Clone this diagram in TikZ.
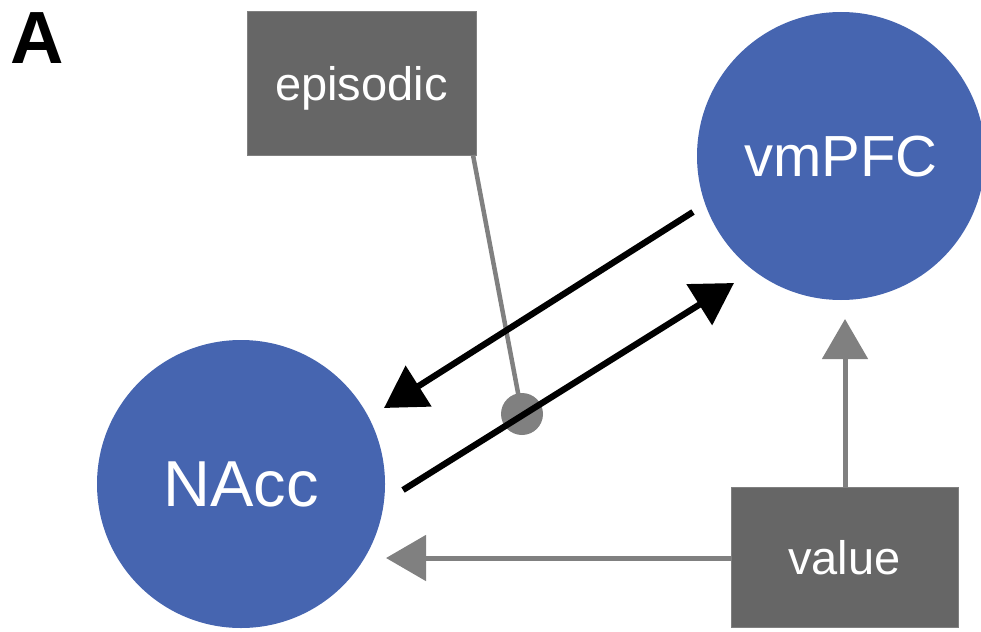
\documentclass[tikz,border=0pt]{standalone}
\usepackage{fontspec}
\setmainfont{Liberation Sans}
\usetikzlibrary{arrows.meta}
\definecolor{nodeblue}{RGB}{70,101,176}
\definecolor{boxgray}{RGB}{102,102,102}
\definecolor{linegray}{RGB}{128,128,128}
\tikzset{
  region/.style={circle, fill=nodeblue, minimum size=288pt, inner sep=0pt, text=white, text depth=0pt},
  factor/.style={rectangle, fill=boxgray, draw=linegray, line width=0.8pt, inner sep=0pt, text=white, text depth=0pt, font=\fontsize{47}{47}\selectfont},
  blackarrow/.style={line width=6.3pt, -{Triangle[length=41pt, width=47pt]}},
  grayarrow/.style={draw=linegray, line width=5pt, -{Triangle[length=40pt, width=45pt]}, color=linegray},
  grayline/.style={draw=linegray, line width=4.5pt},
}
\begin{document}
\begin{tikzpicture}[x=1pt, y=-1pt]
\useasboundingbox (0,0) rectangle (981,631);
\node[anchor=base west, inner sep=0pt, font=\fontsize{74}{74}\selectfont\bfseries] (label) at (10,64) {A};
\node[region, font=\fontsize{65}{65}\selectfont] (nacc) at (241,484) {NAcc};
\node[region, font=\fontsize{58}{58}\selectfont] (vmpfc) at (841,156) {vmPFC};
\node[factor, minimum width=229pt, minimum height=144pt] (episodic) at (361.5,83) {episodic};
\node[factor, minimum width=227pt, minimum height=140pt] (value) at (844.5,557) {value};
\coordinate (epi) at (473,155);
\coordinate (dotc) at (522,414);
\draw[grayline] (epi) -- (dotc);
\node[circle, fill=linegray, minimum size=42pt, inner sep=0pt] (dot) at (dotc) {};
\coordinate (a1s) at (693,212);
\coordinate (a1e) at (384,408);
\coordinate (a2s) at (403,490);
\coordinate (a2e) at (734,283);
\draw[blackarrow] (a1s) -- (a1e);
\draw[blackarrow] (a2s) -- (a2e);
\coordinate (vup) at (845,319);
\coordinate (vleft) at (386,558);
\draw[grayarrow] (value.north -| vup) -- (vup);
\draw[grayarrow] (value.west |- vleft) -- (vleft);
\end{tikzpicture}
\end{document}
